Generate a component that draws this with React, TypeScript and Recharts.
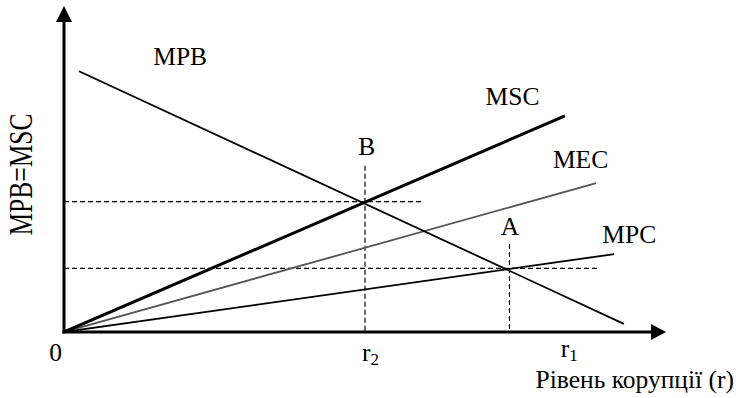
import React from 'react';
import { LineChart, Line, XAxis, YAxis, ReferenceLine, ReferenceDot } from 'recharts';

// r = рівень корупції, v = граничні вигоди / витрати (умовні одиниці)
const MPB = [{ r: 0.25, v: 8.0 }, { r: 9.3, v: 0.25 }];
const MSC = [{ r: 0, v: 0 }, { r: 8.32, v: 6.63 }];
const MEC = [{ r: 0, v: 0 }, { r: 8.84, v: 4.57 }];
const MPC = [{ r: 0, v: 0 }, { r: 9.14, v: 2.39 }];

// точки рівноваги
const POINT_B = { r: 5, v: 4 };
const POINT_A = { r: 7.4, v: 1.95 };

const X_TICKS = [0, 5, 8.3];
const X_TICK_LABELS = ['0', 'r', 'r'];
const X_TICK_SUBS = ['', '2', '1'];

const X_TITLE = 'Рівень корупції (r)';
const Y_TITLE = 'MPB=MSC';

// dashed guide lines to the axes
const GUIDES = [
  [{ x: 0, y: POINT_B.v }, { x: 5.95, y: POINT_B.v }],
  [{ x: POINT_B.r, y: 5.1 }, { x: POINT_B.r, y: 0 }],
  [{ x: 0, y: POINT_A.v }, { x: 8.9, y: POINT_A.v }],
  [{ x: POINT_A.r, y: 2.7 }, { x: POINT_A.r, y: 0 }],
];

// curve / point labels, anchored at the text baseline centre
const NOTES = [
  { text: 'MPB', r: 1.93, v: 8.19 },
  { text: 'MSC', r: 7.45, v: 6.96 },
  { text: 'MEC', r: 8.58, v: 5.03 },
  { text: 'MPC', r: 9.39, v: 2.73 },
  { text: 'B', r: 5.03, v: 5.43 },
  { text: 'A', r: 7.41, v: 2.98 },
];

const FONT = '"Liberation Serif", "Times New Roman", serif';
const FS = 25.5;

const RTick = (props: any) => {
  const { x, y, payload } = props;
  const i = X_TICKS.indexOf(payload.value);
  const sub = X_TICK_SUBS[i];
  if (!sub) {
    return (
      <text x={x - 2} y={y + 29} textAnchor="end" fontFamily={FONT} fontSize={FS} fill="#000">
        {X_TICK_LABELS[i]}
      </text>
    );
  }
  // r1 sits a little higher than r2 in the original
  const base = i === X_TICKS.length - 1 ? 25 : 29;
  return (
    <text x={x - 3} y={y + base} textAnchor="start" fontFamily={FONT} fontSize={FS} fill="#000">
      {X_TICK_LABELS[i]}
      <tspan fontSize={17} dy={4}>{sub}</tspan>
    </text>
  );
};

const arrowRight = (p: any) => (
  <polygon points={`${p.cx},${p.cy} ${p.cx - 15},${p.cy - 8} ${p.cx - 15},${p.cy + 8}`} fill="#000" />
);
const arrowUp = (p: any) => (
  <polygon points={`${p.cx},${p.cy} ${p.cx - 8},${p.cy + 16} ${p.cx + 8},${p.cy + 16}`} fill="#000" />
);

export default function App() {
  return (
    <div style={{ position: 'absolute', left: 0, top: 0, background: '#fff' }}>
      <LineChart width={736} height={398} margin={{ top: 6, right: 70, bottom: 6, left: 64 }}>
        <XAxis
          type="number"
          dataKey="r"
          domain={[0, 10]}
          allowDataOverflow
          ticks={X_TICKS}
          interval={0}
          tick={<RTick />}
          tickSize={0}
          tickMargin={0}
          tickLine={false}
          axisLine={false}
          height={60}
        />
        <YAxis type="number" dataKey="v" domain={[0, 10]} allowDataOverflow hide />

        {/* axes */}
        <ReferenceLine segment={[{ x: 0, y: 0 }, { x: 9.8, y: 0 }]} stroke="#000" strokeWidth={3} strokeLinecap="square" />
        <ReferenceLine segment={[{ x: 0, y: 0 }, { x: 0, y: 9.6 }]} stroke="#000" strokeWidth={3} strokeLinecap="square" />
        <ReferenceDot x={10} y={0} r={0} ifOverflow="visible" shape={arrowRight} />
        <ReferenceDot x={0} y={10} r={0} ifOverflow="visible" shape={arrowUp} />

        {GUIDES.map((seg, i) => (
          <ReferenceLine key={i} segment={seg} stroke="#000" strokeWidth={1.2} strokeDasharray="5 3" />
        ))}

        <Line data={MEC} dataKey="v" stroke="#555" strokeWidth={1.8} dot={false} isAnimationActive={false} />
        <Line data={MPC} dataKey="v" stroke="#000" strokeWidth={1.8} dot={false} isAnimationActive={false} />
        <Line data={MPB} dataKey="v" stroke="#000" strokeWidth={1.8} dot={false} isAnimationActive={false} />
        <Line data={MSC} dataKey="v" stroke="#000" strokeWidth={3} dot={false} isAnimationActive={false} />

        {NOTES.map((n) => (
          <ReferenceDot
            key={n.text}
            x={n.r}
            y={n.v}
            r={0}
            ifOverflow="visible"
            shape={(p: any) => (
              <text x={p.cx} y={p.cy} textAnchor="middle" fontFamily={FONT} fontSize={FS} fill="#000">
                {n.text}
              </text>
            )}
          />
        ))}

        {/* axis titles */}
        <ReferenceDot
          x={11.13}
          y={-1.72}
          r={0}
          ifOverflow="visible"
          shape={(p: any) => (
            <text x={p.cx} y={p.cy} textAnchor="end" fontFamily={FONT} fontSize={FS} fill="#000">
              {X_TITLE}
            </text>
          )}
        />
        <ReferenceDot
          x={-0.714}
          y={4.83}
          r={0}
          ifOverflow="visible"
          shape={(p: any) => (
            <text
              transform={`translate(${p.cx},${p.cy}) rotate(-90) scale(1,1.34)`}
              dy="0.33em"
              textAnchor="middle"
              fontFamily={FONT}
              fontSize={FS}
              fill="#000"
            >
              {Y_TITLE}
            </text>
          )}
        />
      </LineChart>
    </div>
  );
}
